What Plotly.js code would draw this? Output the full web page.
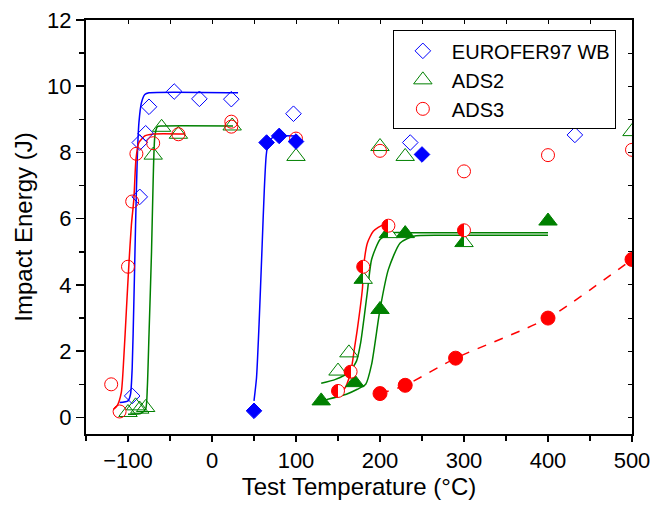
<!DOCTYPE html>
<html>
<head>
<meta charset="utf-8">
<script src="https://cdn.plot.ly/plotly-3.0.1.min.js"></script>
<style>html,body{margin:0;padding:0;background:#fff;}#chart{width:665px;height:506px;}</style>
</head>
<body>
<div id="chart"></div>
<script>
// ---- Data ----
// EUROFER97 WB
const euOpenT = [-95, -86, -86, -79, -75, -45, -15, 23, 97, 236, 432];
const euOpenE = [0.65, 6.66, 8.3, 8.58, 9.38, 9.84, 9.62, 9.61, 9.17, 8.3, 8.53];
const euFillT = [50, 65, 80, 100, 250];
const euFillE = [0.2, 8.3, 8.5, 8.33, 7.94];
// ADS2
const ads2OpenT = [-100, -91, -86, -79, -70, -60, -40, 24, 100, 150, 163, 200, 230, 500];
const ads2OpenE = [0.15, 0.35, 0.25, 0.3, 7.92, 8.76, 8.55, 8.8, 7.88, 1.4, 1.95, 8.18, 7.88, 8.63];
const ads2HalfT = [180, 210, 300];
const ads2HalfE = [4.17, 5.55, 5.28];
const ads2FillT = [130, 170, 200, 230, 400];
const ads2FillE = [0.5, 1.05, 3.26, 5.55, 5.93];
// ADS3
const ads3OpenT = [-120, -110, -100, -95, -90, -70, -40, 23, 23, 100, 200, 300, 400, 500];
const ads3OpenE = [1.0, 0.18, 4.55, 6.52, 7.96, 8.28, 8.55, 8.93, 8.78, 8.42, 8.05, 7.43, 7.92, 8.08];
const ads3HalfT = [150, 165, 180, 210, 300];
const ads3HalfE = [0.8, 1.38, 4.55, 5.79, 5.65];
const ads3FillT = [200, 230, 290, 400, 500];
const ads3FillE = [0.72, 0.97, 1.79, 3.0, 4.77];

// Fit curves
const euFitOpenT = [-110, -100, -97, -95, -93, -91, -89, -87, -84, -80, -75, 31];
const euFitOpenE = [0.45, 0.5, 0.7, 1.5, 3.5, 5.8, 7.8, 8.9, 9.5, 9.75, 9.8, 9.8];
const euFitFillT = [50, 53, 56, 59.5, 62.3, 64.5, 67, 72, 80, 102];
const euFitFillE = [0.5, 1.2, 2.8, 5.07, 6.9, 7.9, 8.3, 8.45, 8.5, 8.5];
const ads2FitOpenT = [-100, -85, -79, -77, -75, -72, -70, -68, -65, -60, 25];
const ads2FitOpenE = [0.1, 0.12, 0.25, 0.9, 2.5, 5.0, 7.2, 8.5, 8.78, 8.8, 8.8];
const ads3FitOpenT = [-117, -113, -108, -105, -102, -99, -96, -93, -90.5, -87, -80, -70, -32];
const ads3FitOpenE = [0.25, 0.35, 0.75, 1.8, 3.2, 4.6, 5.8, 6.6, 7.8, 8.3, 8.5, 8.56, 8.56];
const ads2FitAT = [130, 147, 163, 172, 177, 181, 185, 190, 200, 212, 230, 400];
const ads2FitAE = [1.03, 1.15, 1.36, 1.7, 2.26, 3.0, 3.8, 4.77, 5.37, 5.57, 5.58, 5.58];
const ads2FitBT = [135, 160, 173, 183, 190, 200, 210, 224, 240, 272, 400];
const ads2FitBE = [0.53, 0.7, 0.85, 1.0, 1.6, 3.26, 4.47, 5.27, 5.47, 5.5, 5.5];
const ads3FitHalfT = [145, 157, 165, 170, 173, 179, 181, 185, 192, 204, 210];
const ads3FitHalfE = [0.8, 0.85, 1.35, 2.16, 2.66, 3.87, 4.67, 5.27, 5.62, 5.82, 5.8];

const BLUE = '#0000ff', GREEN = '#008000', RED = '#ff0000';
const FONT = 'Liberation Sans, Arial, sans-serif';

function line(x, y, color, dash) {
  return {x, y, type: 'scatter', mode: 'lines', showlegend: false, hoverinfo: 'skip',
          line: {color, width: 1.5, dash: dash || 'solid', shape: 'spline', smoothing: 0.6}};
}
function pts(x, y, symbol, size, color, name, legend, extra) {
  const m = Object.assign({symbol, size, color, line: {color, width: 1}}, extra || {});
  return {x, y, type: 'scatter', mode: 'markers', name: name || '', showlegend: !!legend, marker: m};
}
const halfGrad = {type: 'horizontal', color: '#ffffff'};

const data = [
  line(euFitOpenT, euFitOpenE, BLUE),
  line(euFitFillT, euFitFillE, BLUE),
  line(ads2FitOpenT, ads2FitOpenE, GREEN),
  line(ads3FitOpenT, ads3FitOpenE, RED),
  line(ads2FitAT, ads2FitAE, GREEN),
  line(ads2FitBT, ads2FitBE, GREEN),
  line(ads3FitHalfT, ads3FitHalfE, RED),
  line(ads3FillT, ads3FillE, RED, 'dash'),
  pts(euOpenT, euOpenE, 'diamond-open', 12, BLUE, 'EUROFER97 WB', true),
  pts(ads2OpenT, ads2OpenE, 'triangle-up-open', 16, GREEN, 'ADS2', true),
  pts(ads3OpenT, ads3OpenE, 'circle-open', 13, RED, 'ADS3', true),
  pts(euFillT, euFillE, 'diamond', 12, BLUE),
  pts(ads2FillT, ads2FillE, 'triangle-up', 16, GREEN),
  pts(ads2HalfT, ads2HalfE, 'triangle-up', 16, GREEN, '', false, {gradient: halfGrad}),
  pts(ads3HalfT, ads3HalfE, 'circle', 13, RED, '', false, {gradient: halfGrad}),
  pts(ads3FillT, ads3FillE, 'circle', 14, RED),
  // carrier for the mirrored top/right tick axes (invisible)
  {x: euFillT, y: euFillE, xaxis: 'x2', yaxis: 'y2', type: 'scatter', mode: 'markers',
   marker: {opacity: 0}, showlegend: false, hoverinfo: 'skip'}
];

const tickFont = {family: FONT, size: 22, color: '#000'};
const titleFont = {family: FONT, size: 24, color: '#000'};
const layout = {
  width: 665, height: 506,
  margin: {l: 86, r: 33, t: 20, b: 72},
  paper_bgcolor: '#fff', plot_bgcolor: '#fff',
  font: {family: FONT, size: 20, color: '#000'},
  xaxis: {
    range: [-150, 500], tick0: 0, dtick: 100, ticks: 'outside', ticklen: 6, tickwidth: 1.5,
    tickcolor: '#000', showline: true, linecolor: '#000', linewidth: 2, mirror: true,
    showgrid: false, zeroline: false, tickfont: tickFont,
    minor: {dtick: 50, ticks: 'outside', ticklen: 5, tickwidth: 1.5, tickcolor: '#000', showgrid: false},
    title: {text: 'Test Temperature (°C)', font: titleFont, standoff: 6}
  },
  yaxis: {
    range: [-0.5, 12], tick0: 0, dtick: 2, ticks: 'outside', ticklen: 8, tickwidth: 1.5,
    tickcolor: '#000', showline: true, linecolor: '#000', linewidth: 2, mirror: true,
    showgrid: false, zeroline: false, tickfont: tickFont,
    minor: {dtick: 1, ticks: 'outside', ticklen: 5, tickwidth: 1.5, tickcolor: '#000', showgrid: false},
    title: {text: 'Impact Energy (J)', font: titleFont, standoff: 8}
  },
  xaxis2: {
    overlaying: 'x', side: 'top', anchor: 'y2', range: [-150, 500], tick0: 0, dtick: 50,
    ticks: 'inside', ticklen: 4, tickwidth: 1, tickcolor: '#000', showticklabels: false,
    showgrid: false, zeroline: false, showline: false
  },
  yaxis2: {
    overlaying: 'y', side: 'right', anchor: 'x2', range: [-0.5, 12], tick0: 0, dtick: 1,
    ticks: 'inside', ticklen: 4, tickwidth: 1, tickcolor: '#000', showticklabels: false,
    showgrid: false, zeroline: false, showline: false
  },
  legend: {
    x: 0.562, y: 0.975, xanchor: 'left', yanchor: 'top',
    bgcolor: '#fff', bordercolor: '#000', borderwidth: 1,
    font: {family: FONT, size: 20, color: '#000'}, itemwidth: 48, tracegroupgap: 0,
    entrywidth: 224, entrywidthmode: 'pixels'
  },
  showlegend: true
};

const gd = document.getElementById('chart');
Plotly.newPlot(gd, data, layout, {staticPlot: true, displayModeBar: false}).then(() => {
  // make the gradient a sharp half fill (left white, right filled)
  gd.querySelectorAll('linearGradient').forEach(g => {
    const stops = g.querySelectorAll('stop');
    if (stops.length !== 2) return;
    const a = stops[0].cloneNode(true); a.setAttribute('offset', '50%');
    const b = stops[1].cloneNode(true); b.setAttribute('offset', '50%');
    g.insertBefore(a, stops[1]);
    g.insertBefore(b, stops[1]);
  });
});
</script>
</body>
</html>
